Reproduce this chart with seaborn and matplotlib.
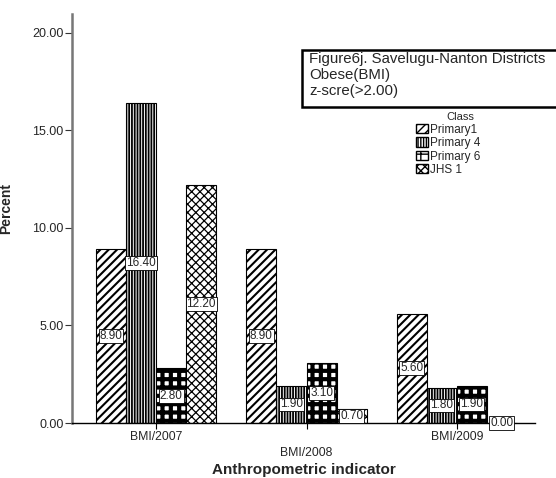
import matplotlib
matplotlib.use("Agg")
import matplotlib.pyplot as plt
from matplotlib.patches import Patch, Rectangle
import seaborn as sns
import pandas as pd

indicators = ["BMI/2007", "BMI/2008", "BMI/2009"]
classes = ["Primary1", "Primary 4", "Primary 6", "JHS 1"]
primary1 = [8.90, 8.90, 5.60]
primary4 = [16.40, 1.90, 1.80]
primary6 = [2.80, 3.10, 1.90]
jhs1 = [12.20, 0.70, 0.00]
yticks = [0, 5, 10, 15, 20]

rows = []
for cls, vals in zip(classes, [primary1, primary4, primary6, jhs1]):
    for ind, v in zip(indicators, vals):
        rows.append({"indicator": ind, "cls": cls, "value": v})
df = pd.DataFrame(rows)

sns.set_theme(style="white")
plt.rcParams['font.family'] = ['Liberation Sans', 'DejaVu Sans']

fig = plt.figure(figsize=(5.56, 4.78), dpi=100)
ax = fig.add_axes([72/556, 55/478, (535-72)/556, (423-14)/478])

sns.barplot(data=df, x="indicator", y="value", hue="cls", order=indicators,
            hue_order=classes, palette=["white"]*4, edgecolor="black",
            linewidth=0.8, width=0.8, gap=0, legend=False, ax=ax, errorbar=None)

hatches = ["////", "||||||", "++", "xxxx"]
hlw = [1.5, 1.3, 3.0, 0.9]
for cont, h, lw in zip(ax.containers, hatches, hlw):
    for bar in cont:
        bar.set_hatch(h)
        bar.set_edgecolor("black")
        if hasattr(bar, "set_hatch_linewidth"):
            bar.set_hatch_linewidth(lw)
        hgt = bar.get_height()
        ax.text(bar.get_x() + bar.get_width()/2, hgt/2, f"{hgt:.2f}",
                ha="center", va="center", fontsize=8.5, zorder=5,
                bbox=dict(boxstyle="square,pad=0.08", fc="white", ec="black", lw=0.6))

ax.set_xlim(-0.56, 2.52)
ax.set_ylim(0, 20.97)
ax.set_yticks(yticks)
ax.set_yticklabels([f"{t:.2f}" for t in yticks], fontsize=9)
ax.tick_params(axis="y", direction="out", length=5, width=0.8, color="#333333", pad=1, left=True)
ax.tick_params(axis="x", direction="out", length=4, width=0.8, color="black", labelsize=8.8, bottom=True)
ticks = ax.xaxis.get_major_ticks()
ticks[1].tick1line.set_markersize(14)
ticks[1].set_pad(13)
for t in (ticks[0], ticks[2]):
    t.set_pad(2)

for s in ["top", "right"]:
    ax.spines[s].set_visible(False)
ax.spines["left"].set_color("#777777")
ax.spines["left"].set_linewidth(1.8)
ax.spines["bottom"].set_color("black")
ax.spines["bottom"].set_linewidth(1.0)
ax.grid(False)

ax.set_ylabel("Percent", fontsize=10, fontweight="bold")
ax.yaxis.set_label_coords((13 - 72) / 463, (423 - 209) / 409)
ax.set_xlabel("Anthropometric indicator", fontsize=11, fontweight="bold")
ax.xaxis.set_label_coords(0.5, (423 - 470) / 409)
ax.xaxis.label.set_va("center")

# title box
fig.patches.append(Rectangle((302/556, (478-107)/478), 270/556, 57/478,
                             transform=fig.transFigure, fill=True, fc="white",
                             ec="black", lw=1.8, zorder=10))
fig.text(309/556, (478-52)/478, "Figure6j. Savelugu-Nanton Districts\nObese(BMI)\nz-scre(>2.00)",
         fontsize=10.8, va="top", ha="left", linespacing=1.2, zorder=11)

handles = [Patch(facecolor="white", edgecolor="black", hatch=h, label=c)
           for h, c in zip(hatches, classes)]
leg = fig.legend(handles=handles, title="Class", loc="upper left",
                 bbox_to_anchor=(408/556, (478-104)/478), frameon=False,
                 fontsize=8.5, title_fontsize=8, handlelength=1.0, handleheight=0.8,
                 handletextpad=0.2, labelspacing=0.12, borderpad=0.2)
leg.get_title().set_position((12, 0))

fig.savefig("out.png", dpi=100)
